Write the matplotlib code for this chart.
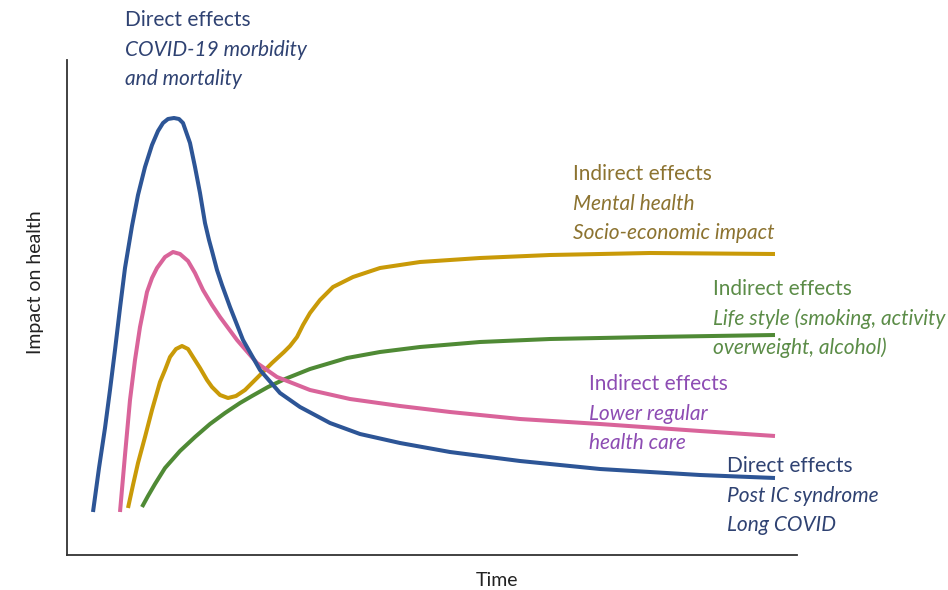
import matplotlib
matplotlib.use("Agg")
import matplotlib.pyplot as plt

# Time (horizontal position) and impact values
blue_t = [93, 99, 105, 110, 115, 120, 125, 132, 138, 145, 152, 158, 163, 168, 174, 179, 183, 190, 195, 200, 205, 209, 212, 217, 222, 230, 243, 260, 280, 300, 330, 360, 400, 450, 520, 600, 700, 775]
blue_v = [43, 87, 127, 165, 205, 247, 287, 329, 360, 388, 410, 424, 432, 436, 437, 436, 432, 412, 388, 362, 332, 315, 304, 285, 270, 248, 215, 185, 162, 148, 132, 121, 112, 103, 94, 86, 80, 77]

pink_t = [120, 125, 130, 135, 140, 147, 152, 157, 165, 173, 180, 188, 195, 203, 212, 220, 237, 257, 277, 310, 350, 400, 450, 520, 600, 700, 775]
pink_v = [43, 100, 155, 195, 228, 263, 277, 287, 298, 303, 301, 294, 282, 265, 250, 238, 215, 192, 178, 165, 156, 149, 143, 136, 131, 124, 119]

gold_t = [128, 133, 138, 145, 152, 160, 165, 170, 176, 182, 188, 193, 200, 207, 212, 220, 228, 236, 245, 253, 262, 272, 284, 290, 297, 303, 310, 320, 333, 353, 380, 420, 480, 550, 650, 775]
gold_v = [47, 70, 92, 118, 145, 173, 185, 198, 206, 209, 206, 198, 187, 175, 168, 160, 157, 159, 165, 173, 182, 192, 203, 209, 218, 230, 242, 255, 268, 278, 287, 293, 297, 300, 302, 301]

green_t = [142, 148, 155, 165, 180, 195, 210, 225, 240, 252, 268, 285, 310, 347, 380, 420, 480, 550, 650, 775]
green_v = [48, 59, 71, 87, 104, 118, 131, 142, 152, 159, 168, 176, 186, 197, 203, 208, 213, 216, 218, 220]

BLUE = "#2d5596"
PINK = "#d9649a"
GOLD = "#c99a08"
GREEN = "#4f8a35"
NAVY_T = "#2f4272"
GOLD_T = "#8c7330"
GREEN_T = "#5b8c47"
PURPLE_T = "#8d4cb3"

plt.rcParams['font.family'] = ['Lato', 'DejaVu Sans']

fig = plt.figure(figsize=(9.48, 5.90), dpi=100)
ax = fig.add_axes([67/948, 35/590, 730/948, 495/590])
ax.set_xlim(67, 797)
ax.set_ylim(0, 495)

lw = 2.9
for t, v, c in [(green_t, green_v, GREEN), (gold_t, gold_v, GOLD),
                (pink_t, pink_v, PINK), (blue_t, blue_v, BLUE)]:
    ax.plot(t, v, color=c, lw=lw, solid_joinstyle='round', solid_capstyle='butt')

for s in ['top', 'right']:
    ax.spines[s].set_visible(False)
for s in ['left', 'bottom']:
    ax.spines[s].set_color('#333333')
    ax.spines[s].set_linewidth(1.3)
ax.set_xticks([])
ax.set_yticks([])

fs = 15
def label(x, y_top_px, lines, color):
    for i, (txt, it) in enumerate(lines):
        ax.text(x, 555 - (y_top_px + i * 29.5), txt, color=color, fontsize=fs,
                style='italic' if it else 'normal', va='center', ha='left', clip_on=False)

label(125, 20, [("Direct effects", False), ("COVID-19 morbidity", True), ("and mortality", True)], NAVY_T)
label(573, 174, [("Indirect effects", False), ("Mental health", True), ("Socio-economic impact", True)], GOLD_T)
label(713, 289, [("Indirect effects", False), ("Life style (smoking, activity", True), ("overweight, alcohol)", True)], GREEN_T)
label(589, 384, [("Indirect effects", False), ("Lower regular", True), ("health care", True)], PURPLE_T)
label(727, 466, [("Direct effects", False), ("Post IC syndrome", True), ("Long COVID", True)], NAVY_T)

fig.text(35/948, 1 - 282/590, "Impact on health", rotation=90, ha='center', va='center',
         fontsize=14, color='#222222')
fig.text(497/948, 1 - 580/590, "Time", ha='center', va='center', fontsize=14, color='#222222')

fig.savefig("out.png", dpi=100)
